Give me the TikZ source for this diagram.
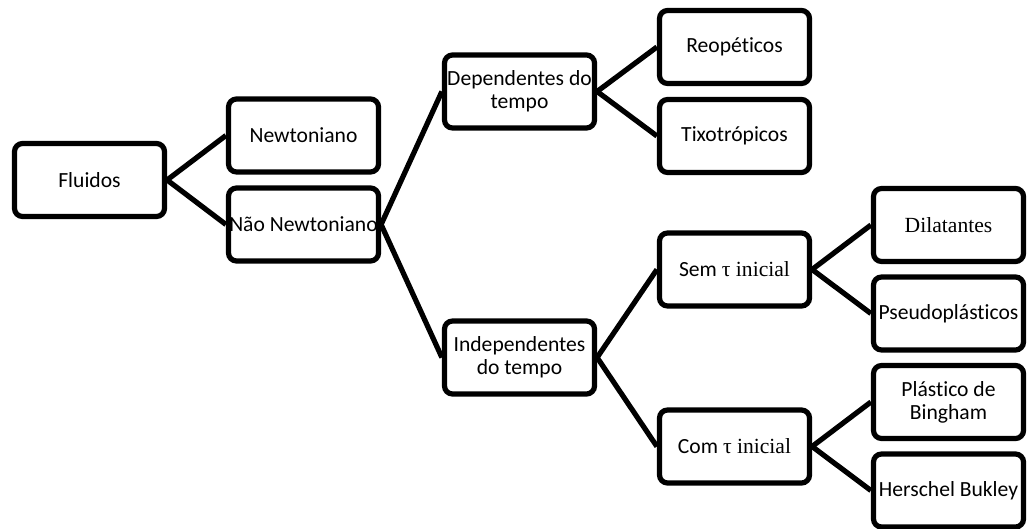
\documentclass[tikz,border=0pt]{standalone}
\usepackage{fontspec}
\setmainfont{Carlito}[Ligatures=CommonOff]
\newfontfamily\serifa{Liberation Serif}
\usetikzlibrary{positioning}

\begin{document}
\begin{tikzpicture}[x=0.5pt,y=0.5pt,on grid,
  caixa/.style={draw,line width=2.6pt,rounded corners=4pt,fill=white,
    minimum width=75pt,minimum height=36.5pt,inner sep=0pt,align=center,
    font=\fontsize{10.8}{11.5}\selectfont},
  ligacao/.style={line width=2.6pt}]
  \useasboundingbox (0,0) rectangle (1027,-529);
  \node[caixa] (fluidos) at (89.5,-180) {Fluidos};
  \node[caixa] (newt) [above right=22.25pt and 107pt of fluidos] {Newtoniano};
  \node[caixa] (naonewt) [below right=22.25pt and 107pt of fluidos] {Não Newtoniano};
  \node[caixa] (dep) [above right=66.5pt and 108pt of naonewt] {Dependentes do\\tempo};
  \node[caixa] (indep) [below right=66.5pt and 108pt of naonewt] {Independentes\\do tempo};
  \node[caixa] (reop) [above right=22.25pt and 107.5pt of dep] {Reopéticos};
  \node[caixa] (tixo) [below right=22.25pt and 107.5pt of dep] {Tixotrópicos};
  \node[caixa] (sem) [above right=44pt and 107.5pt of indep] {Sem {\serifa τ inicial}};
  \node[caixa] (com) [below right=44.5pt and 107.5pt of indep] {Com {\serifa τ inicial}};
  \node[caixa] (dil) [above right=22.25pt and 107pt of sem] {\serifa Dilatantes};
  \node[caixa] (pseudo) [below right=22pt and 107pt of sem] {Pseudoplásticos};
  \node[caixa] (bingham) [above right=22.25pt and 107pt of com] {Plástico de\\Bingham};
  \node[caixa] (herschel) [below right=22pt and 107pt of com] {Herschel Bukley};
  % ligacoes
  \path[ligacao] (fluidos.east) edge (newt.west) edge (naonewt.west)
    (naonewt.east) edge (dep.west) edge (indep.west)
    (dep.east) edge (reop.west) edge (tixo.west)
    (indep.east) edge (sem.west) edge (com.west)
    (sem.east) edge (dil.west) edge (pseudo.west)
    (com.east) edge (bingham.west) edge (herschel.west);
\end{tikzpicture}
\end{document}
